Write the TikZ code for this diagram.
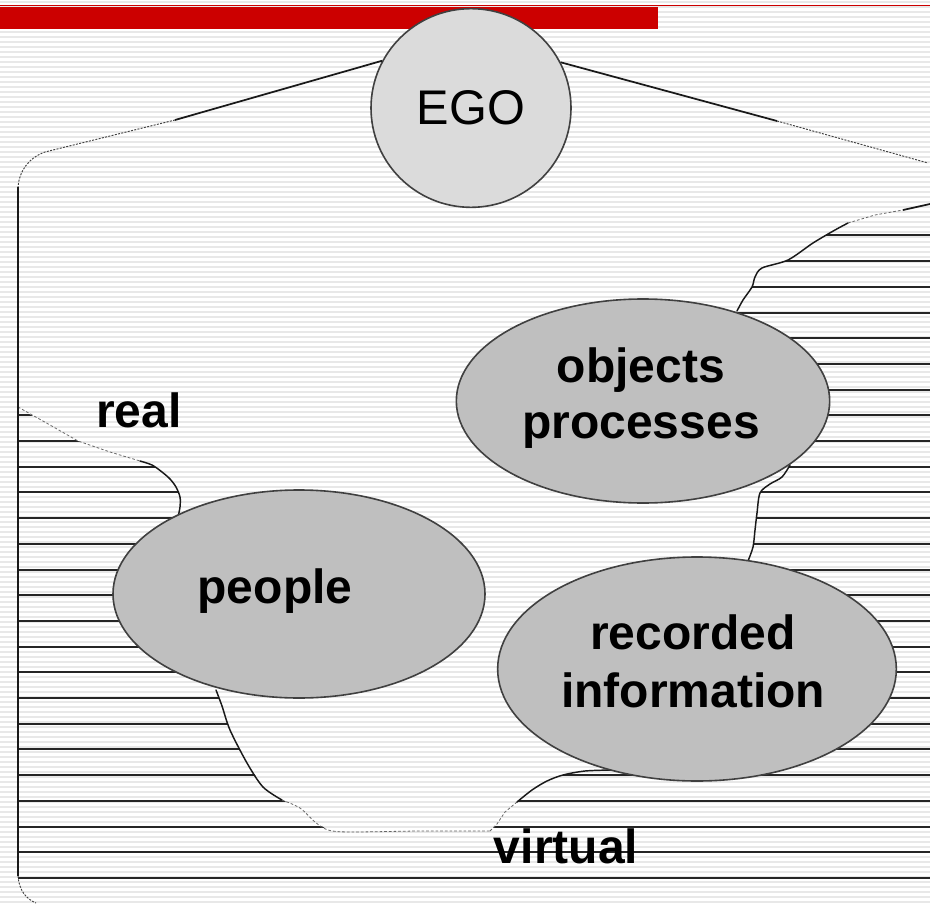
\documentclass[tikz,border=0pt]{standalone}
\usepackage{fontspec}
\setmainfont{Liberation Sans}
\usetikzlibrary{shapes.geometric}
\begin{document}
\begin{tikzpicture}[x=0.75pt,y=-0.75pt,
  stripe/.style={draw=black!9, line width=1pt},
  hatch/.style={draw=black!85, line width=1.5pt},
  bnd/.style={draw=black!90, line width=1.1pt, line join=round, line cap=round},
  bnddash/.style={draw=black!60, line width=0.6pt, dash pattern=on 2pt off 1.5pt},
  bubble/.style={ellipse, draw=black!75, line width=1.2pt, fill=black!25, inner sep=0pt},
  egobub/.style={ellipse, draw=black!75, line width=1.2pt, fill=black!14, inner sep=0pt,
    font=\fontsize{36.5}{42}\selectfont},
  lbl/.style={font=\fontsize{36}{42}\selectfont\bfseries, inner sep=0pt, anchor=base},
  roof/.style={draw=black!90, line width=1.3pt},
  roofdot/.style={draw=black!75, line width=0.7pt, dash pattern=on 1.5pt off 1pt},
  sideline/.style={draw=black!90, line width=0.8pt},
  redline/.style={draw=red!80!black, line width=0.9pt},
]
\useasboundingbox (0,0) rectangle (930,905);
\fill[white] (0,0) rectangle (930,905);
% faint scan stripes
\foreach \k in {0,...,180} \draw[stripe] (0,{2+5*\k}) -- (930,{2+5*\k});

% hatching of the virtual region
\begin{scope}
\clip (16,407) -- (50,425) -- (78,441) -- (110,452) -- (140,461) -- (152,465) -- (162,472)
  -- (170,479) -- (176,487) -- (180,497) -- (180,507) -- (178,517)
  -- (216,690) -- (222,706) -- (230,730) -- (247,763) -- (263,787) -- (282,800)
  -- (300,808) -- (315,822) -- (328,830) -- (350,832) -- (420,831) -- (490,831)
  -- (497,824) -- (505,812) -- (517,802) -- (532,790) -- (547,781) -- (563,775)
  -- (585,771) -- (612,770)
  -- (748,561) -- (753,547) -- (755,530) -- (757,513) -- (760,493) -- (770,484)
  -- (782,477) -- (790,465)
  -- (737,311) -- (743,300) -- (752,287) -- (755,277) -- (762,268) -- (788,260)
  -- (813,243) -- (835,230) -- (848,223) -- (875,215) -- (903,210) -- (932,204)
  -- (932,888) -- (16,888) -- cycle;
\foreach \k in {0,...,25} \draw[hatch] (18,{235.4+25.7*\k}) -- (932,{235.4+25.7*\k});
\end{scope}

% real / virtual boundary
\draw[bnddash] (18,407) -- (50,425) -- (78,441) -- (110,452) -- (140,461);
\draw[bnd] plot[smooth] coordinates {(140,461) (152,465) (162,472) (170,479) (176,487) (180,497) (180,507) (178,517)};
\draw[bnd] plot[smooth] coordinates {(216,690) (222,706) (230,730) (247,763) (263,787) (282,800)};
\draw[bnddash] plot[smooth] coordinates {(282,800) (300,808) (315,822) (328,830) (350,832) (420,831) (490,831)};
\draw[bnddash] (490,831) -- (497,824) -- (505,812) -- (517,802);
\draw[bnd] plot[smooth] coordinates {(517,802) (532,790) (547,781) (563,775) (585,771) (612,770)};
\draw[bnd] plot[smooth] coordinates {(748,561) (753,547) (755,530) (757,513) (760,493) (770,484) (782,477) (790,465)};
\draw[bnd] plot[smooth] coordinates {(737,311) (743,300) (752,287) (755,277) (762,268) (788,260) (813,243) (835,230) (848,223)};
\draw[bnddash] (848,223) -- (875,215) -- (903,210);
\draw[roof] (903,210) -- (930,204);

% red header
\draw[redline] (0,5.5) -- (930,5.5);
\fill[red!80!black] (0,7) rectangle (658,29);

% bubbles
\node[egobub, minimum width=150pt, minimum height=149pt] (ego) at (471,108) {EGO};
\node[bubble, minimum width=279pt, minimum height=156pt] (people) at (299,594) {};
\node[bubble, minimum width=280pt, minimum height=153pt] (objects) at (643,401) {};
\node[bubble, minimum width=299pt, minimum height=168pt] (recorded) at (697,669) {};

% outline of the ego space
\coordinate (lr1) at (175,120);
\coordinate (lr2) at (45,152);
\coordinate (lc) at (18,187);
\coordinate (lb) at (18,876);
\coordinate (lbc) at (36,903);
\coordinate (rr1) at (777,121);
\coordinate (rr2) at (928,163);
\draw[roof] (ego.152) -- (lr1);
\draw[roofdot] (lr1) -- (lr2) .. controls (28,158) and (19,172) .. (lc);
\draw[sideline] (lc) -- (lb);
\draw[roofdot] (lb) .. controls (19,890) and (26,899) .. (lbc);
\draw[roof] (ego.27) -- (rr1);
\draw[roofdot] (rr1) -- (rr2);

% labels
\node[lbl] (tobj) at (641,382) {objects};
\node[lbl] (tproc) at (641,438) {processes};
\node[lbl] (tpeople) at (275,603) {people};
\node[lbl] (trec) at (693,649) {recorded};
\node[lbl] (tinfo) at (693,707) {information};
\node[lbl] (treal) at (139,427) {real};
\node[lbl] (tvirt) at (566,863) {virtual};
\end{tikzpicture}
\end{document}
